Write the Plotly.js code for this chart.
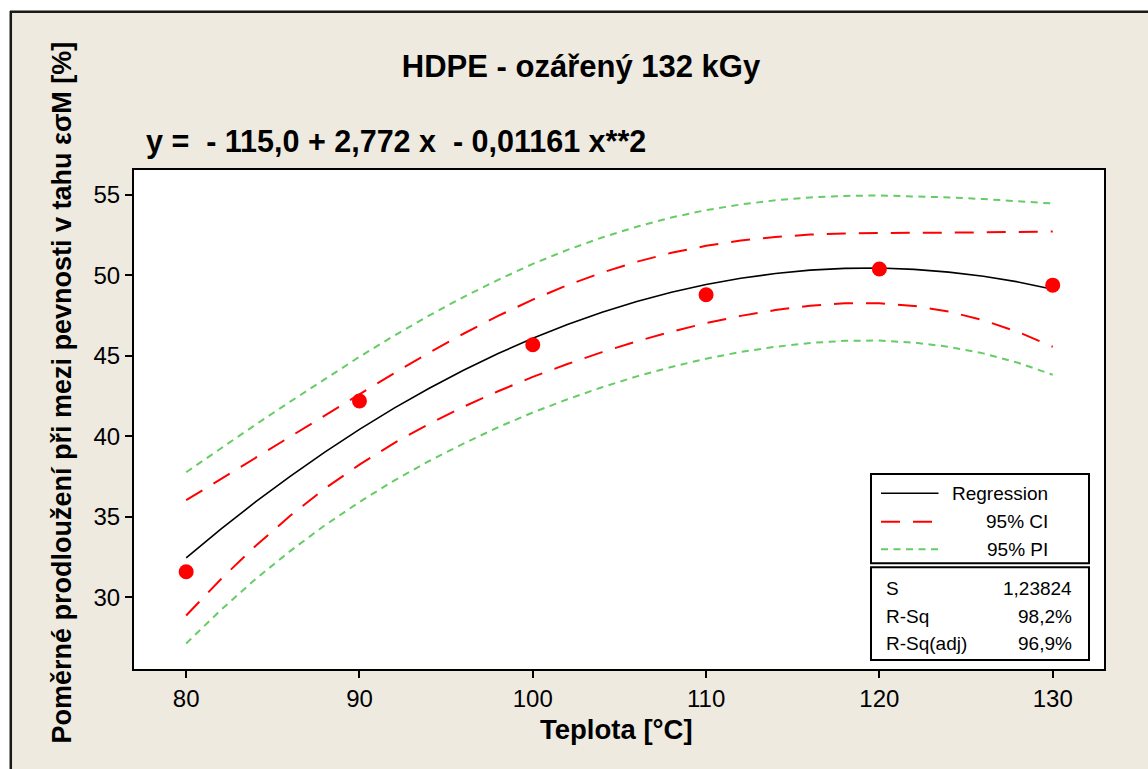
<!DOCTYPE html>
<html>
<head>
<meta charset="utf-8">
<script src="https://cdn.plot.ly/plotly-3.0.1.min.js"></script>
<style>html,body{margin:0;padding:0;background:#fff;}#chart{width:1148px;height:769px;}</style>
</head>
<body>
<div id="chart"></div>
<script>
// ---- data ----
const temperature = [80,82,84,86,88,90,92,94,96,98,100,102,104,106,108,110,112,114,116,118,120,122,124,126,128,130];
const regression = [32.46,34.24,35.93,37.52,39.03,40.44,41.76,42.98,44.11,45.15,46.10,46.95,47.71,48.38,48.96,49.44,49.83,50.12,50.33,50.44,50.46,50.38,50.21,49.95,49.60,49.15];
const ciUpper = [36.04,37.35,38.66,39.97,41.31,42.63,43.93,45.19,46.38,47.49,48.50,49.40,50.18,50.85,51.41,51.84,52.17,52.39,52.54,52.61,52.65,52.66,52.66,52.68,52.71,52.73];
const ciLower = [28.88,31.13,33.20,35.07,36.76,38.25,39.59,40.77,41.84,42.81,43.70,44.50,45.24,45.91,46.51,47.04,47.49,47.85,48.12,48.27,48.27,48.11,47.76,47.22,46.49,45.57];
const piUpper = [37.78,39.26,40.73,42.16,43.58,44.95,46.26,47.50,48.66,49.73,50.72,51.59,52.36,53.03,53.60,54.06,54.41,54.67,54.85,54.94,54.97,54.93,54.85,54.75,54.62,54.47];
const piLower = [27.14,29.22,31.14,32.88,34.48,35.93,37.26,38.46,39.56,40.57,41.49,42.31,43.06,43.73,44.32,44.83,45.25,45.57,45.81,45.94,45.96,45.83,45.57,45.16,44.58,43.83];
const obsTemperature = [80,90,100,110,120,130];
const obsValue = [31.6,42.2,45.7,48.8,50.4,49.4];
const xTicks = [80,90,100,110,120,130];
const yTicks = [30,35,40,45,50,55];
const legendLabels = ["Regression","95% CI","95% PI"];
const statNames = ["S","R-Sq","R-Sq(adj)"];
const statValues = ["1,23824","98,2%","96,9%"];

// ---- layout geometry ----
const W = 1148, H = 769;
const M = {l:134, r:44, t:170, b:100};
const PW = W - M.l - M.r, PH = H - M.t - M.b;
const px2x = p => (p - M.l) / PW;
const py2y = p => (M.t + PH - p) / PH;

const FONT = "Liberation Sans, Arial, sans-serif";
const RED = "#FF0000", GREEN = "#66CC66", BLACK = "#000000";
const CI_DASH = "19px,13px", PI_DASH = "7px,5.5px";

const traces = [
  {x: temperature, y: piUpper, mode:"lines", line:{color:GREEN, width:2, dash:PI_DASH}, hoverinfo:"skip"},
  {x: temperature, y: piLower, mode:"lines", line:{color:GREEN, width:2, dash:PI_DASH}, hoverinfo:"skip"},
  {x: temperature, y: ciUpper, mode:"lines", line:{color:RED, width:2, dash:CI_DASH}, hoverinfo:"skip"},
  {x: temperature, y: ciLower, mode:"lines", line:{color:RED, width:2, dash:CI_DASH}, hoverinfo:"skip"},
  {x: temperature, y: regression, mode:"lines", line:{color:BLACK, width:1.6}, hoverinfo:"skip"},
  {x: obsTemperature, y: obsValue, mode:"markers", marker:{color:RED, size:15}}
];

const shapes = [];
const annotations = [];

// outer frame: white strip top & left, black border
shapes.push({type:"rect", xref:"paper", yref:"paper", x0:px2x(-60), x1:px2x(9.5), y0:py2y(900), y1:py2y(-60), fillcolor:"#FFFFFF", line:{width:0}, layer:"below"});
shapes.push({type:"rect", xref:"paper", yref:"paper", x0:px2x(-60), x1:px2x(1300), y0:py2y(10.5), y1:py2y(-60), fillcolor:"#FFFFFF", line:{width:0}, layer:"below"});
shapes.push({type:"line", xref:"paper", yref:"paper", x0:px2x(10.8), x1:px2x(10.8), y0:py2y(11), y1:py2y(900), line:{color:"#1a1a1a", width:2.5}});
shapes.push({type:"line", xref:"paper", yref:"paper", x0:px2x(10), x1:px2x(1300), y0:py2y(11.8), y1:py2y(11.8), line:{color:"#1a1a1a", width:2.5}});

// legend boxes
shapes.push({type:"rect", xref:"paper", yref:"paper", x0:px2x(871), x1:px2x(1089), y0:py2y(563.3), y1:py2y(474), fillcolor:"#FFFFFF", line:{color:BLACK, width:2}});
shapes.push({type:"rect", xref:"paper", yref:"paper", x0:px2x(871), x1:px2x(1089), y0:py2y(660), y1:py2y(567.3), fillcolor:"#FFFFFF", line:{color:BLACK, width:2}});

const legendY = [493.3, 521.7, 549.3];
const legendStyle = [{color:BLACK, width:1.6, dash:"solid"}, {color:RED, width:2, dash:CI_DASH}, {color:GREEN, width:2, dash:PI_DASH}];
legendLabels.forEach((lab, i) => {
  shapes.push({type:"line", xref:"paper", yref:"paper", x0:px2x(881), x1:px2x(938.5), y0:py2y(legendY[i]), y1:py2y(legendY[i]), line:legendStyle[i]});
  annotations.push({text:lab, xref:"paper", yref:"paper", x:px2x(1050), y:py2y(legendY[i]), xanchor:"right", yanchor:"middle", showarrow:false, font:{family:FONT, size:19, color:BLACK}});
});
const statY = [588.3, 616.7, 643.3];
statNames.forEach((nm, i) => {
  annotations.push({text:nm, xref:"paper", yref:"paper", x:px2x(884), y:py2y(statY[i]), xanchor:"left", yanchor:"middle", showarrow:false, font:{family:FONT, size:19, color:BLACK}});
  annotations.push({text:statValues[i], xref:"paper", yref:"paper", x:px2x(1073.5), y:py2y(statY[i]), xanchor:"right", yanchor:"middle", showarrow:false, font:{family:FONT, size:19, color:BLACK}});
});

// equation
annotations.push({text:"y =\u00a0 - 115,0 + 2,772 x\u00a0 - 0,01161 x**2", xref:"paper", yref:"paper", x:px2x(144), y:py2y(142), xanchor:"left", yanchor:"middle", showarrow:false, font:{family:FONT, size:30.5, color:BLACK, weight:"bold"}});
// axis titles
annotations.push({text:"Teplota [°C]", xref:"paper", yref:"paper", x:px2x(616), y:py2y(729), xanchor:"center", yanchor:"middle", showarrow:false, font:{family:FONT, size:27.5, color:BLACK, weight:"bold"}});
annotations.push({text:"Poměrné prodloužení při mezi pevnosti v tahu εσM [%]", xref:"paper", yref:"paper", x:px2x(61), y:py2y(392.5), xanchor:"center", yanchor:"middle", textangle:-90, showarrow:false, font:{family:FONT, size:27, color:BLACK, weight:"bold"}});

const layout = {
  width: W, height: H,
  margin: M,
  paper_bgcolor: "#EEEAE0",
  plot_bgcolor: "#FFFFFF",
  showlegend: false,
  title: {text:"HDPE - ozářený 132 kGy", x:581/W, xanchor:"center", y:1-66/H, yanchor:"middle", font:{family:FONT, size:31, color:BLACK, weight:"bold"}},
  xaxis: {range:[76.99,132.96], tickvals:xTicks, ticktext:xTicks.map(String), ticks:"outside", ticklen:7, tickwidth:2, tickcolor:BLACK,
          showline:true, mirror:true, linecolor:BLACK, linewidth:2, showgrid:false, zeroline:false,
          tickfont:{family:FONT, size:24, color:BLACK}},
  yaxis: {range:[25.555,56.552], tickvals:yTicks, ticktext:yTicks.map(String), ticks:"outside", ticklen:7, tickwidth:2, tickcolor:BLACK,
          showline:true, mirror:true, linecolor:BLACK, linewidth:2, showgrid:false, zeroline:false,
          tickfont:{family:FONT, size:24, color:BLACK}},
  shapes: shapes,
  annotations: annotations
};

Plotly.newPlot("chart", traces, layout, {staticPlot:true, displayModeBar:false});
</script>
</body>
</html>
